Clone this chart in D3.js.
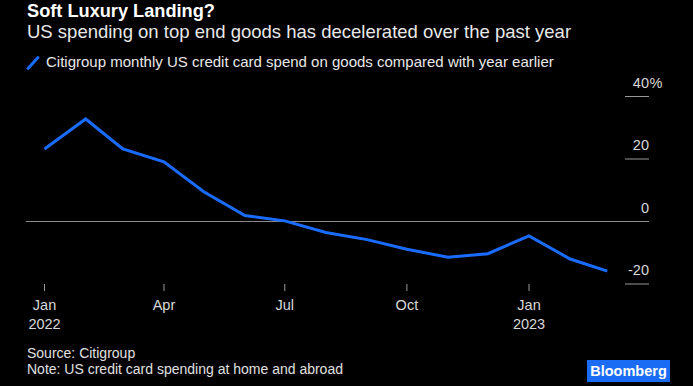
<!DOCTYPE html>
<html>
<head>
<meta charset="utf-8">
<script src="https://cdn.jsdelivr.net/npm/d3@7"></script>
<style>
  html, body { margin: 0; padding: 0; background: #000; }
  svg { display: block; font-family: "Liberation Sans", Arial, sans-serif; }
</style>
</head>
<body>
<div id="chart"></div>
<script>
const months = ["2022-01", "2022-02", "2022-03", "2022-04", "2022-05", "2022-06", "2022-07",
  "2022-08", "2022-09", "2022-10", "2022-11", "2022-12", "2023-01", "2023-02", "2023-03"];
const spendChange = [23.2, 32.8, 23.2, 19.1, 9.5, 1.9, 0.2, -3.5, -5.8, -8.9, -11.4, -10.3, -4.6, -12.0, -15.9];
const yTicks = [40, 20, 0, -20];
const xTickDates = ["2022-01", "2022-04", "2022-07", "2022-10", "2023-01"];

const width = 693;
const height = 386;
const parseMonth = d3.timeParse("%Y-%m");

const data = months.map((m, i) => ({ date: parseMonth(m), value: spendChange[i] }));

const svg = d3
  .select("#chart")
  .append("svg")
  .attr("width", width)
  .attr("height", height);

svg.append("rect").attr("width", width).attr("height", height).attr("fill", "#000");

const x = d3
  .scaleTime()
  .domain([parseMonth("2022-01"), parseMonth("2023-01")])
  .range([44.5, 529]);

const y = d3.scaleLinear().domain([-20, 40]).range([284, 96.5]);

// header
svg
  .append("text")
  .text("Soft Luxury Landing?")
  .attr("x", 27)
  .attr("y", 17)
  .attr("fill", "#fff")
  .attr("font-weight", "bold")
  .attr("font-size", 18.2);

svg
  .append("text")
  .text("US spending on top end goods has decelerated over the past year")
  .attr("x", 27)
  .attr("y", 37.5)
  .attr("fill", "#e8e8e8")
  .attr("font-size", 18.5);

// legend
svg
  .append("line")
  .attr("x1", 28)
  .attr("y1", 68.5)
  .attr("x2", 38)
  .attr("y2", 57.5)
  .attr("stroke", "#1a6cff")
  .attr("stroke-width", 3)
  .attr("stroke-linecap", "round");

svg
  .append("text")
  .text("Citigroup monthly US credit card spend on goods compared with year earlier")
  .attr("x", 46)
  .attr("y", 67)
  .attr("fill", "#e8e8e8")
  .attr("font-size", 15);

// y axis on the right
const yAxis = svg.append("g");

yAxis
  .selectAll("line")
  .data(yTicks.filter((d) => d !== 0))
  .enter()
  .append("line")
  .attr("x1", 625)
  .attr("x2", 649)
  .attr("y1", (d) => y(d))
  .attr("y2", (d) => y(d))
  .attr("stroke", "#9a9a9a")
  .attr("stroke-width", 1);

yAxis
  .selectAll("text")
  .data(yTicks)
  .enter()
  .append("text")
  .text((d) => d)
  .attr("x", 649)
  .attr("y", (d) => y(d) - 9)
  .attr("text-anchor", "end")
  .attr("fill", "#d8d8d8")
  .attr("font-size", 14.5);

yAxis
  .append("text")
  .text("%")
  .attr("x", 649.5)
  .attr("y", y(40) - 9)
  .attr("fill", "#d8d8d8")
  .attr("font-size", 14.5);

// zero line
svg
  .append("line")
  .attr("x1", 26)
  .attr("x2", 649)
  .attr("y1", y(0))
  .attr("y2", y(0))
  .attr("stroke", "#8a8a8a")
  .attr("stroke-width", 1);

// x axis
const xAxis = svg.append("g");

const xTicks = xAxis
  .selectAll("g")
  .data(xTickDates.map(parseMonth))
  .enter()
  .append("g")
  .attr("transform", (d) => `translate(${x(d)}, 0)`);

xTicks
  .append("line")
  .attr("y1", 284)
  .attr("y2", 291)
  .attr("stroke", "#9a9a9a")
  .attr("stroke-width", 1);

xTicks
  .append("text")
  .text((d) => d3.timeFormat("%b")(d))
  .attr("y", 310)
  .attr("text-anchor", "middle")
  .attr("fill", "#d8d8d8")
  .attr("font-size", 14.5);

xTicks
  .filter((d) => d.getMonth() === 0)
  .append("text")
  .text((d) => d.getFullYear())
  .attr("y", 328.5)
  .attr("text-anchor", "middle")
  .attr("fill", "#d8d8d8")
  .attr("font-size", 14.5);

// series
const line = d3
  .line()
  .x((d) => x(d.date))
  .y((d) => y(d.value));

svg
  .append("path")
  .datum(data)
  .attr("d", line)
  .attr("fill", "none")
  .attr("stroke", "#1a6cff")
  .attr("stroke-width", 3)
  .attr("stroke-linejoin", "miter");

// footer
svg
  .append("text")
  .text("Source: Citigroup")
  .attr("x", 27)
  .attr("y", 357.5)
  .attr("fill", "#e0e0e0")
  .attr("font-size", 14);

svg
  .append("text")
  .text("Note: US credit card spending at home and abroad")
  .attr("x", 27)
  .attr("y", 373.5)
  .attr("fill", "#e0e0e0")
  .attr("font-size", 14);

const logo = svg.append("g").attr("transform", "translate(587, 360)");

logo
  .append("rect")
  .attr("width", 83)
  .attr("height", 22)
  .attr("fill", "#1a6cf5");

logo
  .append("text")
  .text("Bloomberg")
  .attr("x", 41.5)
  .attr("y", 16)
  .attr("text-anchor", "middle")
  .attr("fill", "#fff")
  .attr("font-weight", "bold")
  .attr("font-size", 14.5);
</script>
</body>
</html>
